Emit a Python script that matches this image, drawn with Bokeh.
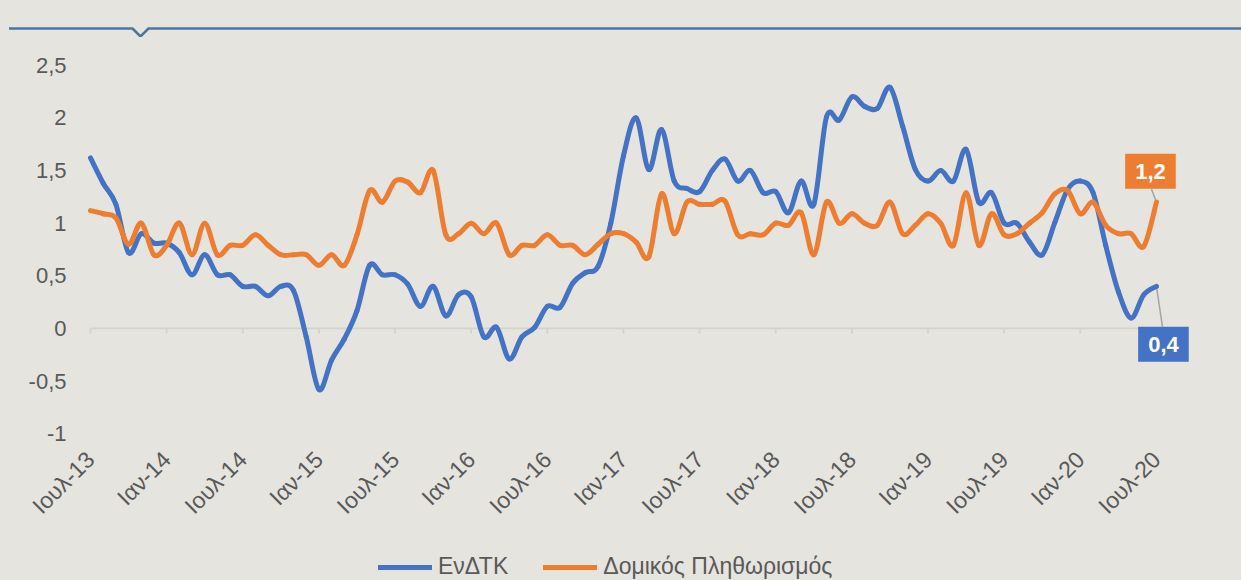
import numpy as np
from bokeh.plotting import figure
from bokeh.models import Range1d, FixedTicker, Legend, LegendItem, Label, ColumnDataSource, Div
from bokeh.layouts import column
from bokeh.embed import file_html
from bokeh.resources import INLINE

# ---------------- data ----------------
x_tick_labels = ["Ιουλ-13", "Ιαν-14", "Ιουλ-14", "Ιαν-15", "Ιουλ-15", "Ιαν-16", "Ιουλ-16",
                 "Ιαν-17", "Ιουλ-17", "Ιαν-18", "Ιουλ-18", "Ιαν-19", "Ιουλ-19", "Ιαν-20", "Ιουλ-20"]
x_tick_pos = [0, 6, 12, 18, 24, 30, 36, 42, 48, 54, 60, 66, 72, 78, 84]
y_ticks = [-1, -0.5, 0, 0.5, 1, 1.5, 2, 2.5]
y_tick_labels = ["-1", "-0,5", "0", "0,5", "1", "1,5", "2", "2,5"]
series_names = ["ΕνΔΤΚ", "Δομικός Πληθωρισμός"]

endtk = [1.62, 1.38, 1.18, 0.72, 0.90, 0.81, 0.81, 0.72, 0.51, 0.70,
         0.51, 0.51, 0.40, 0.40, 0.31, 0.40, 0.36, -0.08, -0.58, -0.30,
         -0.10, 0.17, 0.60, 0.51, 0.51, 0.42, 0.21, 0.40, 0.12, 0.32,
         0.30, -0.08, 0.01, -0.29, -0.08, 0.01, 0.21, 0.20, 0.43, 0.53,
         0.59, 1.00, 1.64, 2.00, 1.51, 1.89, 1.40, 1.33, 1.30, 1.50,
         1.61, 1.40, 1.50, 1.29, 1.30, 1.10, 1.40, 1.18, 2.01, 1.98,
         2.20, 2.11, 2.09, 2.29, 1.92, 1.51, 1.40, 1.50, 1.40, 1.70,
         1.20, 1.29, 1.00, 1.00, 0.82, 0.70, 1.01, 1.32, 1.40, 1.29,
         0.79, 0.35, 0.10, 0.32, 0.40]

domikos = [1.12, 1.09, 1.05, 0.80, 1.00, 0.70, 0.79, 1.00, 0.70, 1.00,
           0.70, 0.79, 0.79, 0.89, 0.79, 0.70, 0.70, 0.70, 0.60, 0.70,
           0.60, 0.89, 1.31, 1.20, 1.40, 1.39, 1.29, 1.50, 0.89, 0.90,
           1.00, 0.90, 1.00, 0.70, 0.79, 0.79, 0.89, 0.79, 0.79, 0.70,
           0.80, 0.90, 0.90, 0.82, 0.68, 1.28, 0.90, 1.20, 1.18, 1.18,
           1.21, 0.89, 0.90, 0.89, 1.00, 0.98, 1.10, 0.70, 1.20, 1.00,
           1.09, 1.00, 0.98, 1.20, 0.90, 0.98, 1.09, 1.00, 0.79, 1.29,
           0.79, 1.09, 0.89, 0.90, 1.00, 1.10, 1.28, 1.31, 1.09, 1.20,
           0.98, 0.90, 0.90, 0.78, 1.20]

# ---------------- style ----------------
BG = "#e5e4df"
BLUE = "#4472c4"
ORANGE = "#ed7d31"
TXT = "#595959"
FONT = "Liberation Sans"
W = 1241
PX_X = 12.69      # px per month
PX_Y = 106.58     # px per unit


def smooth_source(vals):
    y = np.asarray(vals, dtype=float)
    n = len(y)
    x = np.arange(n, dtype=float)
    xp = np.concatenate([[x[0]], x, [x[-1]]])
    yp = np.concatenate([[y[0]], y, [y[-1]]])
    x0, y0, x1, y1 = x[:-1], y[:-1], x[1:], y[1:]
    xprev, yprev = xp[:n - 1], yp[:n - 1]
    xnext, ynext = xp[3:], yp[3:]
    cx0 = x0 + (x1 - xprev) / 6.0
    cy0 = y0 + (y1 - yprev) / 6.0
    cx1 = x1 - (xnext - x0) / 6.0
    cy1 = y1 - (ynext - y0) / 6.0
    return ColumnDataSource(dict(x0=x0, y0=y0, x1=x1, y1=y1,
                                 cx0=cx0, cy0=cy0, cx1=cx1, cy1=cy1))


def style_fig(f):
    f.background_fill_color = BG
    f.border_fill_color = BG
    f.outline_line_color = None
    f.styles = {"background-color": BG}


# ---------------- header rule with notch (decoration) ----------------
header = Div(
    text=('<svg width="%d" height="37" style="display:block">'
          '<polyline points="9,28.5 132.5,28.5 140.5,36.5 148.5,28.5 %d,28.5" '
          'fill="none" stroke="#4e74a0" stroke-width="2.5" stroke-linejoin="round"/></svg>') % (W, W),
    width=W, height=37, margin=0, styles={"background-color": BG})

# ---------------- main chart ----------------
n = len(endtk)
x_left = -10 / PX_X
x_right = 1110 / PX_X
y_top = (331.5 - 45) / PX_Y
y_bot = (331.5 - 450) / PX_Y

p = figure(width=W, height=493, x_range=Range1d(x_left, x_right),
           y_range=Range1d(y_bot, y_top), toolbar_location=None,
           output_backend="svg", min_border_left=80, min_border_right=41,
           min_border_top=8, min_border_bottom=80)
style_fig(p)
p.grid.visible = False

p.xaxis.ticker = FixedTicker(ticks=x_tick_pos)
p.xaxis.major_label_overrides = {t: l for t, l in zip(x_tick_pos, x_tick_labels)}
p.xaxis.major_label_orientation = np.pi / 4
p.xaxis.axis_line_color = None
p.xaxis.major_tick_line_color = None
p.xaxis.minor_tick_line_color = None
p.xaxis.major_label_standoff = 4
p.xaxis.major_label_text_font = FONT
p.xaxis.major_label_text_font_size = "23px"
p.xaxis.major_label_text_color = TXT

p.yaxis.ticker = FixedTicker(ticks=y_ticks)
p.yaxis.major_label_overrides = {t: l for t, l in zip(y_ticks, y_tick_labels)}
p.yaxis.axis_line_color = None
p.yaxis.major_tick_line_color = None
p.yaxis.minor_tick_line_color = None
p.yaxis.major_label_standoff = 8
p.yaxis.major_label_text_font = FONT
p.yaxis.major_label_text_font_size = "22px"
p.yaxis.major_label_text_color = TXT

# zero line with tick marks
p.segment(x0=[x_tick_pos[0]], y0=[0], x1=[x_tick_pos[-1]], y1=[0],
          line_color="#d3d2ce", line_width=1.8)
p.segment(x0=x_tick_pos, y0=[0] * len(x_tick_pos), x1=x_tick_pos,
          y1=[-5 / PX_Y] * len(x_tick_pos), line_color="#d3d2ce", line_width=1.8)

# leader lines for the data labels
last = n - 1
p.segment(x0=[last, last], y0=[domikos[-1], endtk[-1]],
          x1=[last - 5 / PX_X, last + 6 / PX_X],
          y1=[domikos[-1] + 13 / PX_Y, endtk[-1] - 41 / PX_Y],
          line_color="#a5a5a5", line_width=1.5)

p.bezier(x0="x0", y0="y0", x1="x1", y1="y1", cx0="cx0", cy0="cy0",
         cx1="cx1", cy1="cy1", source=smooth_source(endtk),
         line_color=BLUE, line_width=5, line_cap="round")
p.bezier(x0="x0", y0="y0", x1="x1", y1="y1", cx0="cx0", cy0="cy0",
         cx1="cx1", cy1="cy1", source=smooth_source(domikos),
         line_color=ORANGE, line_width=5, line_cap="round")


def fmt(v):
    return f"{v:.1f}".replace(".", ",")


p.add_layout(Label(x=last, y=domikos[-1], text=fmt(domikos[-1]), x_offset=-6, y_offset=31,
                   text_align="center", text_baseline="middle", text_color="white",
                   text_font=FONT, text_font_style="bold", text_font_size="22px",
                   background_fill_color=ORANGE, padding=10))
p.add_layout(Label(x=last, y=endtk[-1], text=fmt(endtk[-1]), x_offset=7, y_offset=-58,
                   text_align="center", text_baseline="middle", text_color="white",
                   text_font=FONT, text_font_style="bold", text_font_size="22px",
                   background_fill_color=BLUE, padding=10))

# ---------------- legend strip ----------------
leg = figure(width=W, height=50, x_range=Range1d(0, 1), y_range=Range1d(0, 1),
             x_axis_type=None, y_axis_type=None, toolbar_location=None,
             output_backend="svg", min_border=0)
style_fig(leg)
leg.grid.visible = False
idx = list(range(n))
lb = leg.line(x=idx, y=endtk, line_color=BLUE, line_width=5, line_cap="round", visible=False)
lo = leg.line(x=idx, y=domikos, line_color=ORANGE, line_width=5, line_cap="round", visible=False)
legend = Legend(items=[LegendItem(label=series_names[0], renderers=[lb]),
                       LegendItem(label=series_names[1], renderers=[lo])],
                location=(298, 0), orientation="horizontal",
                background_fill_alpha=0, border_line_alpha=0, padding=0, margin=0,
                spacing=35, glyph_width=54, glyph_height=20, label_standoff=6,
                label_height=20, label_text_font=FONT, label_text_font_size="23px",
                label_text_color=TXT, inactive_fill_alpha=0)
leg.add_layout(legend)

layout = column(header, p, leg, spacing=0)
open("out.html", "w").write(file_html(layout, INLINE))
